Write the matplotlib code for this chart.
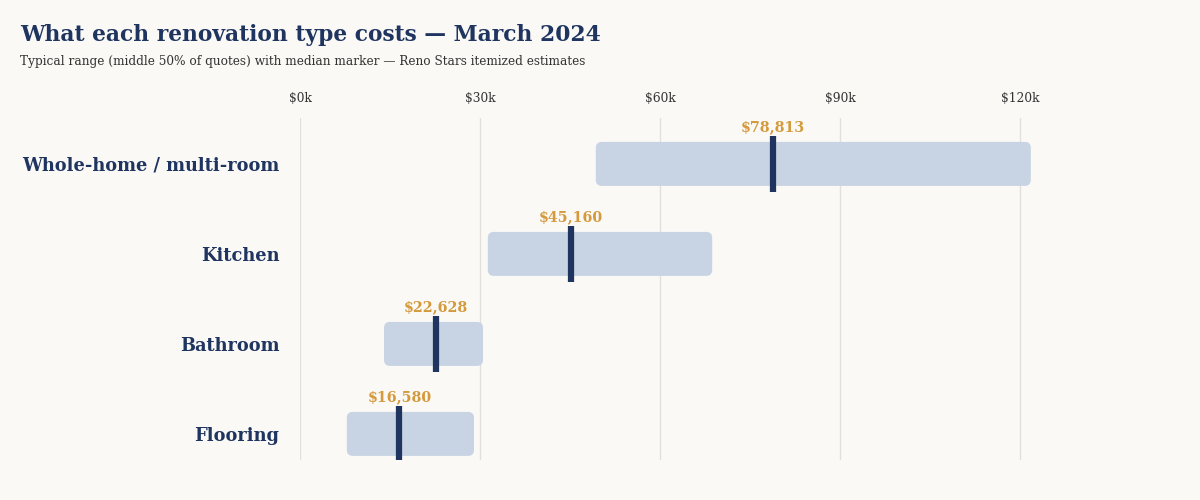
import matplotlib
matplotlib.use("Agg")
import matplotlib.pyplot as plt
from matplotlib.patches import FancyBboxPatch

# data
categories = ["Whole-home / multi-room", "Kitchen", "Bathroom", "Flooring"]
q1 = [49300, 31300, 14000, 7800]
q3 = [121800, 68700, 30500, 29000]
medians = [78813, 45160, 22628, 16580]
tick_vals = [0, 30000, 60000, 90000, 120000]
tick_labels = ["$0k", "$30k", "$60k", "$90k", "$120k"]

BG = "#faf9f6"
NAVY = "#1f3560"
BAR = "#c8d4e3"
GOLD = "#d49a3c"
GRID = "#e3e0db"

plt.rcParams["font.family"] = ["DejaVu Serif"]

fig = plt.figure(figsize=(12, 5), dpi=100, facecolor=BG)
ax = fig.add_axes([0.25, 0.08, 0.625, 0.684])
ax.set_facecolor(BG)

xmin, xmax = 0, 125000
ymin, ymax = 3.29, -0.51
ax.set_xlim(xmin, xmax)
ax.set_ylim(ymin, ymax)

# px -> data conversions for rounded corners
px_x = (xmax - xmin) / 750.0
px_y = (ymin - ymax) / 342.0
bar_h = 44 * px_y

for i, cat in enumerate(categories):
    box = FancyBboxPatch((q1[i], i - bar_h / 2), q3[i] - q1[i], bar_h,
                         boxstyle="round,pad=0,rounding_size=%f" % (6 * px_x),
                         mutation_aspect=px_y / px_x,
                         facecolor=BAR, edgecolor="none", zorder=2)
    ax.add_patch(box)
    ax.plot([medians[i], medians[i]], [i - 28 * px_y, i + 28 * px_y],
            color=NAVY, lw=4.5, solid_capstyle="butt", zorder=3)
    ax.text(medians[i], i - 30 * px_y, "${:,}".format(medians[i]),
            ha="center", va="bottom", color=GOLD, fontsize=10.3,
            fontweight="bold", zorder=4)

ax.set_xticks(tick_vals)
ax.set_xticklabels(tick_labels)
ax.xaxis.tick_top()
ax.tick_params(axis="x", length=0, pad=9, labelsize=8.8, labelcolor="#333333")
ax.grid(axis="x", color=GRID, lw=1, zorder=0)

ax.set_yticks(range(len(categories)))
ax.set_yticklabels(categories)
ax.tick_params(axis="y", length=0, pad=15, labelsize=12.8, labelcolor=NAVY)
for lab in ax.get_yticklabels():
    lab.set_fontweight("bold")

for s in ax.spines.values():
    s.set_visible(False)

fig.text(20 / 1200, 1 - 35 / 500, "What each renovation type costs \u2014 March 2024",
         fontsize=15.7, fontweight="bold", color=NAVY, va="center", ha="left")
fig.text(20 / 1200, 1 - 61 / 500,
         "Typical range (middle 50% of quotes) with median marker \u2014 Reno Stars itemized estimates",
         fontsize=8.7, color="#333333", va="center", ha="left")

fig.savefig("out.png", dpi=100, facecolor=BG)
